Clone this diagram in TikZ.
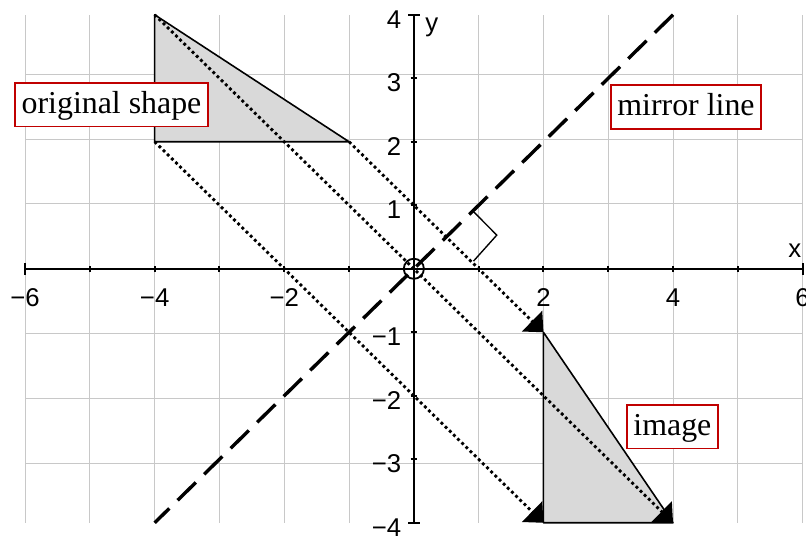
\documentclass[tikz,border=0pt]{standalone}
\usepackage{fontspec}
\setmainfont{Liberation Serif}
\newfontfamily\axfont{Liberation Sans}
\usetikzlibrary{arrows.meta}
\definecolor{gridgray}{RGB}{200,200,200}
\definecolor{shapefill}{RGB}{217,217,217}
\definecolor{boxred}{RGB}{192,0,0}
\tikzset{
  gridline/.style={gridgray, line width=0.45pt},
  axisline/.style={black, line width=0.9pt},
  tri/.style={fill=shapefill, draw=black, line width=0.7pt, line join=round},
  projline/.style={black, line width=1.25pt, dash pattern=on 1.25pt off 1.3pt, -{Triangle[length=7pt,width=12.5pt]}},
  mirrorline/.style={black, line width=1.5pt, dash pattern=on 11.2pt off 5.1pt},
  axlab/.style={font=\axfont\fontsize{11.3}{13}\selectfont, inner sep=0pt},
  callout/.style={draw=boxred, line width=0.8pt, fill=white, inner xsep=2.9pt, inner ysep=3pt,
    text height=10.3pt, text depth=2.7pt, font=\fontsize{14}{16}\selectfont}
}
\begin{document}
\begin{tikzpicture}[x=1cm,y=0.98cm]
\useasboundingbox (-6.387cm,-4.154cm) rectangle (6.052cm,4.148cm);
% grid
\draw[gridline] (-6,-4) grid (6,4);
% points
\coordinate (A) at (-4,4);
\coordinate (B) at (-4,2);
\coordinate (C) at (-1,2);
\coordinate (A1) at (4,-4);
\coordinate (B1) at (2,-4);
\coordinate (C1) at (2,-1);
\coordinate (M1) at (4,4);
\coordinate (M2) at (-4,-4);
\coordinate (O) at (0,0);
% shapes
\draw[tri] (A) -- (B) -- (C) -- cycle;
\draw[tri] (C1) -- (B1) -- (A1) -- cycle;
% axes
\coordinate (XL) at (-6,0);
\coordinate (XR) at (6,0);
\coordinate (YB) at (0,-4);
\coordinate (YT) at (0,4);
\draw[axisline] (XL) -- (XR);
\draw[axisline] (YB) -- (YT);
\foreach \x in {-5,...,5}
  \draw[axisline] ([yshift=-0.05cm]\x,0) -- ([yshift=0.05cm]\x,0);
\foreach \x in {-6,6}
  \draw[axisline] ([yshift=-0.09cm]\x,0) -- ([yshift=0.09cm]\x,0);
\foreach \y in {-3,...,3}
  \draw[axisline] ([xshift=-0.05cm]0,\y) -- ([xshift=0.05cm]0,\y);
\foreach \y in {-4,4}
  \draw[axisline] ([xshift=-0.09cm]0,\y) -- ([xshift=0.09cm]0,\y);
% tick labels
\foreach \x/\t/\n in {-6/−6/a,-4/−4/b,-2/−2/c,2/2/d,4/4/e,6/6/f}
  \node[axlab, anchor=north, yshift=-0.3cm] (xl\n) at (\x,0) {\t};
\foreach \y/\t/\n in {-4/−4/a,-3/−3/b,-2/−2/c,-1/−1/d,1/1/e,2/2/f,3/3/g,4/4/h}
  \node[axlab, anchor=east, xshift=-0.1875cm, yshift=-0.07cm] (yl\n) at (0,\y) {\t};
\node[axlab, anchor=south east, xshift=-0.015cm, yshift=0.16cm] (xname) at (XR) {x};
\node[axlab, anchor=north west, xshift=0.172cm, yshift=-0.04cm] (yname) at (YT) {y};
% origin circle
\draw[black, line width=0.8pt] (O) circle (0.155cm);
% projection lines
\draw[projline] (A) -- (A1);
\draw[projline] (B) -- (B1);
\draw[projline] (C) -- (C1);
% mirror line
\draw[mirrorline] (M1) -- (M2);
% right angle marker
\coordinate (R1) at (0.92,0.9);
\coordinate (R2) at (1.28,0.53);
\coordinate (R3) at (0.92,0.12);
\draw[black, line width=0.6pt] (R1) -- (R2) -- (R3);
% labels
\node[callout] (orig) at (-4.666,2.58) {original shape};
\node[callout] (mirr) at (4.2,2.548) {mirror line};
\node[callout] (img) at (3.99,-2.49) {image};
\end{tikzpicture}
\end{document}
